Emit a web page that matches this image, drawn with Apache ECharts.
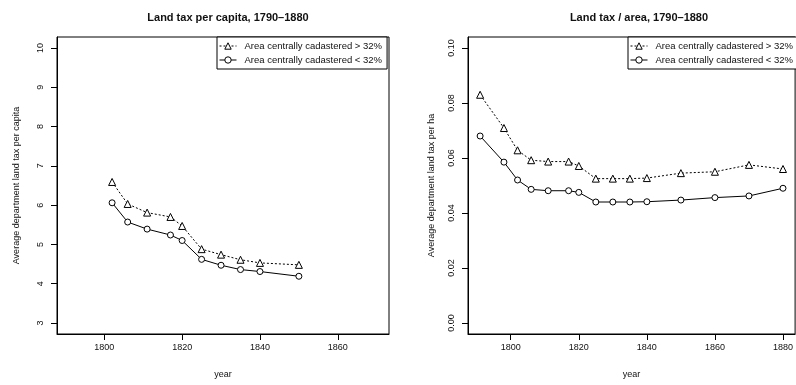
<!DOCTYPE html>
<html>
<head>
<meta charset="utf-8">
<script src="https://cdn.jsdelivr.net/npm/echarts@6/dist/echarts.min.js"></script>
<style>
  html, body { margin: 0; padding: 0; background: #fff; }
  #chart { width: 796px; height: 385px; }
</style>
</head>
<body>
<div id="chart"></div>
<script>
// Panel 1: land tax per capita
const yearsCapita = [1802, 1806, 1811, 1817, 1820, 1825, 1830, 1835, 1840, 1850];
const capitaHigh = [6.59, 6.03, 5.81, 5.70, 5.47, 4.88, 4.74, 4.61, 4.53, 4.48];
const capitaLow = [6.06, 5.57, 5.39, 5.24, 5.10, 4.62, 4.47, 4.36, 4.31, 4.19];

// Panel 2: land tax per hectare
const yearsArea = [1791, 1798, 1802, 1806, 1811, 1817, 1820, 1825, 1830, 1835, 1840, 1850, 1860, 1870, 1880];
const areaHigh = [0.0830, 0.0709, 0.0628, 0.0592, 0.0587, 0.0587, 0.0571, 0.0525, 0.0525, 0.0525, 0.0527, 0.0545, 0.0550, 0.0575, 0.0560];
const areaLow = [0.0680, 0.0585, 0.0520, 0.0486, 0.0481, 0.0481, 0.0475, 0.0440, 0.0440, 0.0440, 0.0441, 0.0447, 0.0456, 0.0462, 0.0490];

// Value-axis tick positions
const yTicksCapita = [3, 4, 5, 6, 7, 8, 9, 10];
const yTicksArea = [0, 0.02, 0.04, 0.06, 0.08, 0.10];

const nameHigh = 'Area centrally cadastered > 32%';
const nameLow = 'Area centrally cadastered < 32%';
const titles = ['Land tax per capita, 1790\u20131880', 'Land tax / area, 1790\u20131880'];
const xName = 'year';
const yNames = ['Average department land tax per capita', 'Average department land tax per ha'];

const FONT = '"Liberation Sans", Arial, Helvetica, sans-serif';
const INK = '#111';

const zip = (xs, ys) => xs.map((x, i) => [x, ys[i]]);

// Year axis: ticks every 20 years, padded extent
function xAxisFor(gridIndex, min, max) {
  return {
    type: 'value', gridIndex, min, max, position: 'bottom', splitNumber: 5,
    axisLine: { show: true, onZero: false, lineStyle: { color: '#000', width: 1 } },
    splitLine: { show: false },
    axisTick: { show: true, inside: false, length: 6, lineStyle: { color: '#000', width: 1 } },
    axisLabel: { showMinLabel: false, showMaxLabel: false, color: INK, fontFamily: FONT, fontSize: 9, margin: 9, formatter: v => String(v) },
    name: xName, nameLocation: 'middle', nameGap: 36,
    nameTextStyle: { color: INK, fontFamily: FONT, fontSize: 9 }
  };
}

function yAxisFor(gridIndex, min, max, ticks, splitNumber, fmt, nameGap, name) {
  return {
    type: 'value', gridIndex, min, max, position: 'left', splitNumber,
    axisLine: { show: true, onZero: false, lineStyle: { color: '#000', width: 1 } },
    splitLine: { show: false },
    axisTick: { show: true, inside: false, length: 6, customValues: ticks, lineStyle: { color: '#000', width: 1 } },
    axisLabel: { showMinLabel: false, showMaxLabel: false, rotate: 90, color: INK, fontFamily: FONT, fontSize: 9, margin: 12, formatter: fmt },
    name, nameLocation: 'middle', nameGap, nameRotate: 90,
    nameTextStyle: { color: INK, fontFamily: FONT, fontSize: 9 }
  };
}

function lineSeries(name, xi, yi, data, symbol, size, dashed) {
  return {
    type: 'line', name, xAxisIndex: xi, yAxisIndex: yi, data,
    symbol, symbolSize: size, showAllSymbol: true,
    lineStyle: { color: '#000', width: 1, type: dashed ? [2, 2] : 'solid' },
    itemStyle: { color: '#fff', borderColor: '#000', borderWidth: 1 },
    emphasis: { disabled: true }, silent: true
  };
}

function legendAt(left) {
  return {
    left, top: 37, orient: 'vertical',
    data: [nameHigh, nameLow],
    itemWidth: 17, itemHeight: 8, itemGap: 4,
    padding: [4, 5, 4, 2],
    borderColor: '#000', borderWidth: 1, borderRadius: 0,
    backgroundColor: '#fff',
    selectedMode: false,
    itemStyle: { color: '#fff', borderColor: '#000', borderWidth: 1 },
    lineStyle: { color: '#000', width: 1 },
    textStyle: { color: INK, fontFamily: FONT, fontSize: 9.5, padding: [0, 0, 0, 3] }
  };
}

const chart = echarts.init(document.getElementById('chart'), null, { renderer: 'canvas' });
chart.setOption({
  animation: false,
  backgroundColor: '#fff',
  title: [
    { text: titles[0], left: 223, top: 7, textAlign: 'center', textStyle: { fontFamily: FONT, fontSize: 11, fontWeight: 'bold', color: INK } },
    { text: titles[1], left: 634, top: 7, textAlign: 'center', textStyle: { fontFamily: FONT, fontSize: 11, fontWeight: 'bold', color: INK } }
  ],
  grid: [
    { left: 57, top: 37, width: 332, height: 297, show: true, borderColor: '#000', borderWidth: 1, backgroundColor: 'transparent' },
    { left: 468, top: 37, width: 332, height: 297, show: true, borderColor: '#000', borderWidth: 1, backgroundColor: 'transparent' }
  ],
  xAxis: [
    xAxisFor(0, 1787.84, 1873.16),
    xAxisFor(1, 1787.44, 1883.56)
  ],
  yAxis: [
    yAxisFor(0, 2.72, 10.28, yTicksCapita, 8, v => String(v), 36, yNames[0]),
    yAxisFor(1, -0.004, 0.104, yTicksArea, 5, v => v.toFixed(2), 32, yNames[1])
  ],
  legend: [legendAt(217), legendAt(628)],
  series: [
    lineSeries(nameHigh, 0, 0, zip(yearsCapita, capitaHigh), 'triangle', 7, true),
    lineSeries(nameLow, 0, 0, zip(yearsCapita, capitaLow), 'circle', 6, false),
    lineSeries(nameHigh, 1, 1, zip(yearsArea, areaHigh), 'triangle', 7, true),
    lineSeries(nameLow, 1, 1, zip(yearsArea, areaLow), 'circle', 6, false)
  ]
});
</script>
</body>
</html>
